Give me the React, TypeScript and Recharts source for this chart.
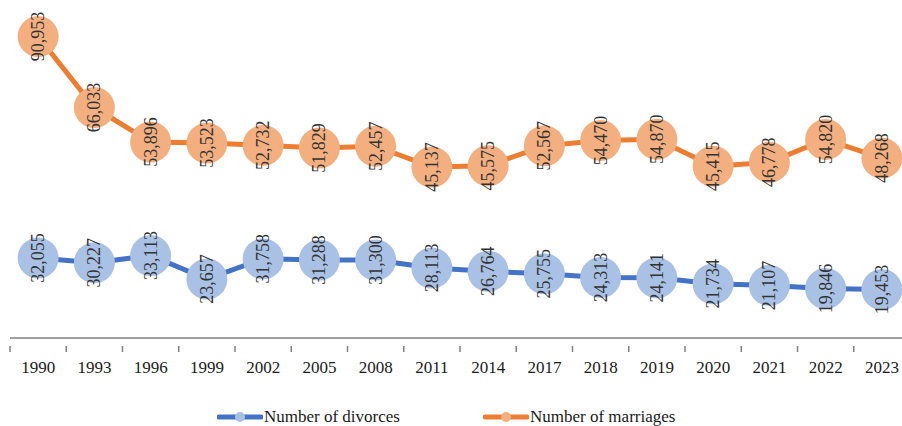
import { LineChart, Line, XAxis, YAxis, Legend, LabelList } from 'recharts';

const YEARS = ['1990', '1993', '1996', '1999', '2002', '2005', '2008', '2011', '2014', '2017', '2018', '2019', '2020', '2021', '2022', '2023'];
const DIVORCES = [32055, 30227, 33113, 23657, 31758, 31288, 31300, 28113, 26764, 25755, 24313, 24141, 21734, 21107, 19846, 19453];
const MARRIAGES = [90953, 66033, 53896, 53523, 52732, 51829, 52457, 45137, 45575, 52567, 54470, 54870, 45415, 46778, 54820, 48268];

const data = YEARS.map((year, i) => ({ year, divorces: DIVORCES[i], marriages: MARRIAGES[i] }));

const CHART_W = 910;
const CHART_H = 426;
const MARGIN = { top: 19, right: 0, left: 10, bottom: 0 };
const STEP = (CHART_W - MARGIN.left - MARGIN.right) / YEARS.length;
const FONT = '"Liberation Serif", "Times New Roman", serif';

const SERIES = [
    { key: 'divorces', name: 'Number of divorces', line: '#4472C4', dot: '#A9C1E4', axis: 'div' },
    { key: 'marriages', name: 'Number of marriages', line: '#ED7D31', dot: '#F4AF80', axis: 'mar' },
];

function YearTick(props: any) {
    const { x, y, payload, index } = props;
    const half = STEP / 2;
    return (
        <g>
            <line x1={x - half} y1={y} x2={x - half} y2={y + 6} stroke="#808080" strokeWidth={1.5} />
            {index === YEARS.length - 1 && (
                <line x1={x + half} y1={y} x2={x + half} y2={y + 6} stroke="#808080" strokeWidth={1.5} />
            )}
            <text x={x} y={y + 27} textAnchor="middle" fontSize={17} fontFamily={FONT} fill="#1a1a1a">
                {payload.value}
            </text>
        </g>
    );
}

function ValueLabel(props: any) {
    const { x, y, value } = props;
    return (
        <text
            x={x}
            y={y}
            transform={`rotate(-90 ${x} ${y})`}
            textAnchor="middle"
            dominantBaseline="central"
            fontSize={18}
            fontFamily={FONT}
            fill="#333333"
        >
            {Number(value).toLocaleString('en-US')}
        </text>
    );
}

function LegendContent() {
    return (
        <div style={{ height: 26, width: 902, boxSizing: 'border-box', paddingLeft: 217, paddingTop: 7, display: 'flex', fontFamily: FONT, fontSize: 17, color: '#1a1a1a', lineHeight: '21px' }}>
            {SERIES.map((s) => (
                <div key={s.key} style={{ display: 'flex', alignItems: 'center', width: s.key === 'divorces' ? 266 : 'auto' }}>
                    <svg width={46} height={12}>
                        <line x1={2} y1={6} x2={44} y2={6} stroke={s.line} strokeWidth={5} strokeLinecap="round" />
                        <circle cx={23} cy={6} r={5} fill={s.dot} />
                    </svg>
                    <span style={{ marginLeft: 1 }}>{s.name}</span>
                </div>
            ))}
        </div>
    );
}

export default function App() {
    return (
        <div style={{ position: 'absolute', left: 0, top: 0, width: 902, height: 426, overflow: 'hidden', background: '#fff' }}>
            <LineChart width={CHART_W} height={CHART_H} data={data} margin={MARGIN}>
                <XAxis
                    dataKey="year"
                    height={62}
                    padding={{ left: STEP / 2, right: STEP / 2 }}
                    interval={0}
                    tickLine={false}
                    axisLine={{ stroke: '#808080', strokeWidth: 1.5 }}
                    tick={<YearTick />}
                />
                <YAxis yAxisId="div" hide domain={[0, 128000]} />
                <YAxis yAxisId="mar" hide domain={[-14900, 97100]} orientation="right" />
                <Legend verticalAlign="bottom" wrapperStyle={{ left: 0, width: 902 }} content={<LegendContent />} />
                {SERIES.map((s) => (
                    <Line
                        key={s.key}
                        yAxisId={s.axis}
                        dataKey={s.key}
                        name={s.name}
                        stroke={s.line}
                        strokeWidth={5}
                        dot={{ r: 20.5, fill: s.dot, stroke: 'none' }}
                        activeDot={false}
                        isAnimationActive={false}
                    >
                        <LabelList dataKey={s.key} content={<ValueLabel />} />
                    </Line>
                ))}
            </LineChart>
        </div>
    );
}
